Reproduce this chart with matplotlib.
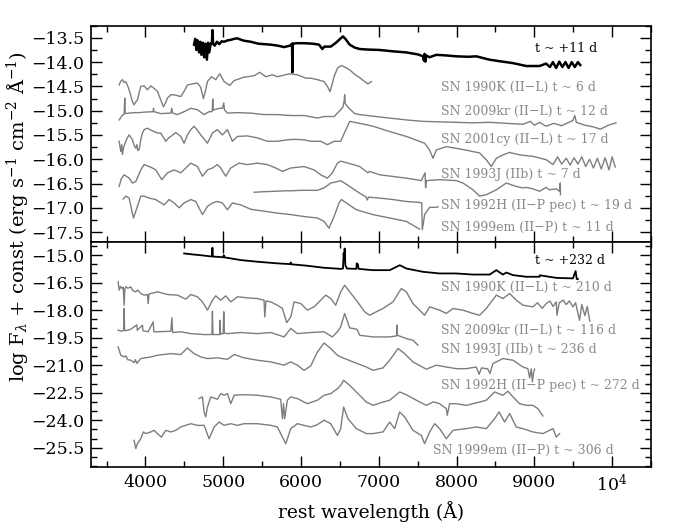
import numpy as np
import matplotlib
matplotlib.use("Agg")
import matplotlib.pyplot as plt
from matplotlib.ticker import MultipleLocator, FixedLocator, FixedFormatter

plt.rcParams["font.family"] = ["DejaVu Serif"]
plt.rcParams["mathtext.fontset"] = "dejavuserif"

# ============================================================
# DATA  (wavelength in A, log flux + const)
# ============================================================

# ---- early epoch panel ----
early_ref_wl = [4625, 4640, 4655, 4670, 4690, 4705, 4720, 4740, 4755, 4770, 4790, 4805, 4820, 4840,
                4855, 4861, 4870, 4890, 4920, 4950, 4980, 5011, 5060, 5100, 5140, 5182, 5230, 5270,
                5354, 5450, 5611, 5700, 5782, 5860, 5885, 5889, 5893, 5950, 6039, 6150, 6232, 6260,
                6275, 6300, 6382, 6450, 6510, 6540, 6570, 6626, 6690, 6754, 6850, 7011, 7200, 7354,
                7500, 7570, 7580, 7589, 7598, 7610, 7650, 7739, 7850, 7996, 8150, 8253, 8350, 8425,
                8550, 8725, 8896, 9067, 9150, 9200, 9239, 9280, 9320, 9360, 9400, 9440, 9480, 9520,
                9560, 9590]
early_ref_fl = [-13.64, -13.52, -13.75, -13.55, -13.80, -13.58, -13.85, -13.60, -13.90, -13.62, -13.95,
                -13.60, -13.80, -13.61, -13.62, -13.34, -13.62, -13.66, -13.58, -13.63, -13.57, -13.58,
                -13.55, -13.54, -13.52, -13.51, -13.54, -13.56, -13.58, -13.62, -13.64, -13.66, -13.69,
                -13.66, -13.62, -14.21, -13.62, -13.61, -13.61, -13.62, -13.64, -13.70, -13.73, -13.68,
                -13.68, -13.60, -13.51, -13.47, -13.52, -13.64, -13.70, -13.73, -13.74, -13.75, -13.78,
                -13.80, -13.84, -13.88, -13.97, -13.83, -13.99, -13.86, -13.90, -13.85, -13.86, -13.88,
                -13.89, -13.88, -13.92, -13.95, -13.98, -14.02, -14.08, -14.08, -14.03, -14.10, -14.00,
                -14.12, -13.99, -14.10, -14.00, -14.12, -14.00, -14.10, -14.00, -14.06]

sn1990k_e_wl = [3662, 3680, 3704, 3725, 3747, 3775, 3803, 3830, 3854, 3876, 3897, 3920, 3940, 3983,
                4026, 4069, 4111, 4154, 4190, 4231, 4255, 4283, 4330, 4390, 4454, 4497, 4540, 4600,
                4668, 4710, 4745, 4770, 4797, 4848, 4904, 4955, 5011, 5083, 5140, 5268, 5397, 5470,
                5547, 5632, 5696, 5854, 5953, 6061, 6125, 6211, 6296, 6340, 6373, 6400, 6425, 6470,
                6519, 6560, 6626, 6690, 6754, 6818, 6861, 6904]
sn1990k_e_fl = [-14.47, -14.40, -14.36, -14.42, -14.40, -14.50, -14.64, -14.80, -14.88, -14.82, -14.78,
                -14.62, -14.50, -14.49, -14.57, -14.49, -14.54, -14.60, -14.75, -14.92, -14.85, -14.74,
                -14.67, -14.68, -14.71, -14.60, -14.47, -14.45, -14.43, -14.52, -14.75, -14.60, -14.40,
                -14.30, -14.36, -14.24, -14.40, -14.48, -14.38, -14.31, -14.28, -14.21, -14.30, -14.26,
                -14.30, -14.24, -14.26, -14.33, -14.33, -14.36, -14.40, -14.50, -14.61, -14.45, -14.30,
                -14.12, -14.07, -14.10, -14.16, -14.25, -14.32, -14.40, -14.45, -14.40]

sn2009kr_e_wl = [3662, 3700, 3726, 3734, 3740, 3790, 3850, 3920, 3983, 4100, 4103, 4110, 4197, 4326,
                 4338, 4350, 4411, 4497, 4583, 4668, 4754, 4820, 4858, 4865, 4872, 4904, 4960, 4990,
                 5007, 5015, 5054, 5182, 5354, 5525, 5696, 5868, 6039, 6211, 6300, 6425, 6510, 6540,
                 6555, 6561, 6568, 6604, 6690, 6754, 7011, 7354, 7568, 7782, 7996, 8211, 8425, 8639,
                 8853, 8950, 9000, 9067, 9150, 9250, 9350, 9496, 9520, 9540, 9650, 9750, 9850, 9950,
                 10050]
sn2009kr_e_fl = [-15.19, -15.10, -15.07, -14.74, -15.06, -15.05, -15.04, -15.04, -15.03, -15.02, -14.95,
                 -15.02, -15.06, -15.05, -14.95, -15.05, -15.08, -15.02, -14.95, -14.98, -15.08, -15.02,
                 -15.02, -14.76, -14.99, -14.97, -14.95, -14.95, -14.84, -14.98, -15.05, -15.04, -15.05,
                 -15.08, -15.08, -15.10, -15.10, -15.15, -15.12, -15.12, -14.98, -14.92, -14.80, -14.67,
                 -14.85, -14.93, -15.06, -15.08, -15.13, -15.19, -15.22, -15.23, -15.24, -15.25, -15.24,
                 -15.26, -15.28, -15.22, -15.30, -15.24, -15.32, -15.26, -15.31, -15.20, -15.10, -15.24,
                 -15.30, -15.33, -15.38, -15.30, -15.25]

sn2001cy_wl = [3662, 3683, 3695, 3704, 3720, 3747, 3770, 3790, 3812, 3833, 3855, 3876, 3890, 3900,
               3919, 3940, 3961, 3983, 4026, 4069, 4111, 4154, 4197, 4261, 4300, 4326, 4390, 4454,
               4497, 4540, 4583, 4625, 4668, 4711, 4754, 4797, 4861, 4925, 4990, 5054, 5118, 5182,
               5311, 5439, 5568, 5696, 5825, 5911, 6039, 6125, 6253, 6339, 6425, 6510, 6560, 6626,
               6690, 6754, 6925, 7140, 7354, 7589, 7650, 7697, 7739, 7870, 8082, 8296, 8382, 8446,
               8511, 8596, 8682, 8810, 8982, 9153, 9239, 9300, 9350, 9410, 9460, 9510, 9560, 9610,
               9660, 9710, 9760, 9810, 9860, 9910, 9960, 10000, 10040]
sn2001cy_fl = [-15.63, -15.84, -15.70, -15.90, -15.75, -15.63, -15.55, -15.50, -15.55, -15.60, -15.72,
               -15.77, -15.70, -15.82, -15.80, -15.60, -15.46, -15.39, -15.36, -15.40, -15.43, -15.46,
               -15.46, -15.63, -15.56, -15.53, -15.45, -15.53, -15.67, -15.50, -15.39, -15.32, -15.40,
               -15.50, -15.58, -15.67, -15.46, -15.39, -15.50, -15.39, -15.63, -15.53, -15.52, -15.56,
               -15.63, -15.63, -15.60, -15.59, -15.60, -15.63, -15.63, -15.70, -15.63, -15.63, -15.45,
               -15.22, -15.24, -15.26, -15.32, -15.43, -15.53, -15.67, -15.80, -15.98, -15.81, -15.74,
               -15.80, -15.87, -16.01, -16.15, -15.98, -15.91, -15.86, -15.91, -15.94, -16.01, -16.11,
               -15.95, -16.10, -15.98, -16.12, -15.97, -16.10, -15.95, -16.15, -16.00, -16.18, -15.98,
               -16.20, -15.97, -16.22, -15.95, -16.16]

sn1993j_e_wl = [3662, 3690, 3726, 3790, 3833, 3876, 3940, 3983, 4047, 4090, 4133, 4210, 4283, 4368,
                4454, 4583, 4668, 4733, 4797, 4861, 4925, 4968, 5032, 5097, 5204, 5311, 5439, 5568,
                5675, 5761, 5868, 6039, 6168, 6253, 6339, 6403, 6468, 6510, 6626, 6754, 6861, 6880,
                7011, 7354, 7547, 7595, 7602, 7611, 7782, 7996, 8082, 8211, 8296, 8382, 8511, 8639,
                8768, 8850, 8896, 8982, 9067, 9150, 9196, 9282, 9324, 9333, 9336]
sn1993j_e_fl = [-16.56, -16.40, -16.32, -16.39, -16.49, -16.46, -16.22, -16.11, -16.15, -16.18, -16.22,
                -16.42, -16.28, -16.22, -16.28, -16.08, -16.15, -16.35, -16.22, -16.18, -16.11, -16.18,
                -16.35, -16.18, -16.08, -16.11, -16.08, -16.11, -16.18, -16.25, -16.18, -16.15, -16.22,
                -16.32, -16.39, -16.28, -16.08, -16.04, -16.09, -16.15, -16.28, -16.25, -16.32, -16.39,
                -16.44, -16.28, -16.59, -16.44, -16.42, -16.44, -16.49, -16.63, -16.76, -16.73, -16.63,
                -16.49, -16.56, -16.59, -16.58, -16.61, -16.66, -16.58, -16.63, -16.61, -16.66, -16.49,
                -16.73]

sn1992h_e_wl = [5397, 5500, 5654, 5800, 5868, 6000, 6082, 6211, 6296, 6382, 6468, 6510, 6626, 6754,
                6840, 6850, 6870, 7011, 7182, 7354, 7525, 7552, 7559, 7575, 7589, 7654, 7739, 7761]
sn1992h_e_fl = [-16.68, -16.67, -16.66, -16.65, -16.65, -16.64, -16.64, -16.64, -16.59, -16.49, -16.46,
                -16.44, -16.56, -16.70, -16.78, -16.84, -16.78, -16.80, -16.83, -16.87, -16.89, -16.90,
                -17.45, -17.30, -17.14, -16.99, -16.99, -16.98]

sn1999em_e_wl = [3713, 3747, 3790, 3846, 3897, 3940, 3983, 4047, 4133, 4240, 4304, 4368, 4433, 4497,
                 4583, 4647, 4733, 4797, 4861, 4925, 4990, 5054, 5118, 5225, 5354, 5525, 5696, 5868,
                 6039, 6211, 6296, 6360, 6425, 6489, 6520, 6583, 6711, 6925, 7140, 7354, 7525]
sn1999em_e_fl = [-16.82, -16.76, -16.80, -17.21, -16.97, -16.76, -16.76, -16.80, -16.83, -16.94, -16.83,
                 -16.90, -17.00, -16.90, -16.83, -16.87, -17.14, -16.97, -16.90, -16.87, -16.90, -17.04,
                 -16.90, -16.94, -17.03, -17.07, -17.11, -17.14, -17.18, -17.21, -17.28, -17.42, -17.18,
                 -16.90, -16.83, -16.90, -17.04, -17.14, -17.21, -17.28, -17.44]

# ---- late epoch panel ----
late_ref_wl = [4497, 4600, 4700, 4840, 4855, 4861, 4867, 4950, 5000, 5007, 5014, 5225, 5439, 5696,
               5860, 5868, 5876, 6082, 6296, 6510, 6540, 6548, 6555, 6561, 6570, 6590, 6711, 6716,
               6731, 6740, 6925, 7140, 7270, 7354, 7568, 7782, 7996, 8211, 8425, 8511, 8596, 8639,
               8725, 8896, 9067, 9070, 9282, 9496, 9530, 9545, 9560]
late_ref_fl = [-14.91, -14.96, -15.00, -15.07, -15.07, -14.60, -15.08, -15.10, -15.12, -15.00, -15.12,
               -15.27, -15.36, -15.45, -15.49, -15.40, -15.50, -15.58, -15.69, -15.75, -15.73, -14.90,
               -15.20, -14.64, -15.55, -15.73, -15.75, -15.45, -15.50, -15.75, -15.82, -15.82, -15.55,
               -15.73, -15.91, -16.00, -16.00, -16.06, -16.06, -15.82, -16.06, -15.95, -16.09, -16.18,
               -16.18, -16.10, -16.24, -16.27, -15.87, -16.30, -16.31]

sn1990k_l_wl = [3649, 3662, 3680, 3700, 3715, 3726, 3735, 3750, 3769, 3790, 3812, 3840, 3876, 3900,
                3940, 3983, 4026, 4034, 4047, 4069, 4111, 4154, 4283, 4411, 4518, 4583, 4668, 4733,
                4797, 4861, 4904, 4968, 5032, 5097, 5182, 5311, 5439, 5525, 5534, 5550, 5611, 5696,
                5761, 5816, 5868, 5911, 5996, 6082, 6168, 6232, 6318, 6382, 6446, 6510, 6561, 6626,
                6711, 6818, 6883, 6925, 7054, 7182, 7290, 7354, 7439, 7525, 7589, 7654, 7782, 7868,
                7954, 8082, 8211, 8296, 8382, 8511, 8596, 8682, 8768, 8853, 8982, 9040, 9100, 9153,
                9200, 9240, 9282, 9290, 9320, 9370, 9410, 9450, 9496, 9530, 9581, 9610, 9650, 9680,
                9713]
sn1990k_l_fl = [-16.46, -16.91, -16.70, -16.82, -16.75, -17.73, -16.85, -16.72, -16.80, -16.78, -16.73,
                -16.95, -17.00, -16.90, -17.09, -17.18, -17.15, -17.64, -17.12, -17.09, -17.05, -17.00,
                -17.15, -17.18, -17.40, -17.15, -17.27, -17.55, -18.00, -17.46, -17.22, -17.46, -17.22,
                -17.55, -17.27, -17.33, -17.37, -17.46, -18.37, -17.50, -17.55, -17.73, -17.91, -18.68,
                -18.37, -17.55, -17.64, -18.00, -17.82, -17.55, -17.18, -17.37, -17.73, -17.00, -16.64,
                -17.00, -17.46, -18.09, -18.28, -18.18, -17.91, -17.55, -16.82, -17.00, -17.64, -18.00,
                -18.28, -17.82, -18.00, -18.18, -17.91, -18.00, -18.18, -18.28, -17.91, -17.18, -17.37,
                -17.09, -17.46, -17.73, -17.82, -17.60, -17.90, -17.64, -17.50, -17.80, -17.55, -18.28,
                -17.60, -17.45, -17.70, -17.50, -17.82, -17.60, -18.55, -17.70, -18.30, -17.80, -18.60]

sn2009kr_l_wl = [3649, 3690, 3720, 3726, 3732, 3769, 3812, 3889, 3895, 3961, 3968, 4034, 4100, 4108,
                 4154, 4326, 4340, 4350, 4454, 4583, 4754, 4855, 4861, 4868, 4904, 4955, 4959, 4965,
                 5000, 5007, 5014, 5054, 5225, 5439, 5611, 5782, 5868, 5953, 6125, 6296, 6403, 6468,
                 6510, 6561, 6626, 6720, 6754, 6925, 7140, 7230, 7234, 7240, 7354, 7439, 7504]
sn2009kr_l_fl = [-19.09, -19.15, -19.10, -17.91, -19.12, -19.10, -19.04, -18.80, -19.10, -18.82, -19.12,
                 -19.18, -18.64, -19.18, -19.18, -19.15, -18.42, -19.22, -19.18, -19.28, -19.33, -19.33,
                 -18.06, -19.33, -19.33, -19.33, -18.55, -19.30, -19.28, -18.09, -19.25, -19.28, -19.22,
                 -19.28, -19.22, -19.46, -19.00, -19.28, -19.22, -19.18, -19.46, -19.18, -18.91, -18.18,
                 -18.97, -19.04, -19.37, -19.46, -19.46, -19.40, -18.82, -19.37, -19.55, -19.64, -19.91]

sn1993j_l_wl = [3649, 3683, 3726, 3750, 3770, 3812, 3854, 3870, 3890, 3940, 4069, 4154, 4326, 4454,
                4540, 4625, 4711, 4797, 4925, 5054, 5140, 5268, 5439, 5611, 5782, 5868, 5953, 6039,
                6125, 6211, 6296, 6382, 6468, 6510, 6668, 6840, 6925, 7054, 7140, 7247, 7332, 7439,
                7611, 7739, 7868, 7996, 8125, 8253, 8290, 8320, 8400, 8430, 8468, 8596, 8725, 8853,
                8917, 8940, 8960, 8975, 8990, 9003]
sn1993j_l_fl = [-20.00, -20.46, -20.55, -20.50, -20.70, -20.73, -20.86, -20.70, -20.90, -20.64, -20.55,
                -20.46, -20.37, -20.42, -20.06, -20.37, -20.55, -20.64, -20.60, -20.68, -20.42, -20.60,
                -20.73, -20.82, -21.00, -20.82, -21.00, -21.28, -21.04, -20.28, -19.79, -20.09, -20.46,
                -20.55, -20.82, -21.10, -21.28, -21.15, -20.73, -20.09, -20.37, -20.82, -21.22, -21.00,
                -21.10, -21.19, -21.19, -21.10, -21.50, -21.15, -21.20, -21.45, -20.91, -20.64, -20.73,
                -21.10, -21.19, -21.70, -21.20, -21.91, -21.40, -21.22]

sn1992h_l_wl = [4690, 4733, 4754, 4775, 4797, 4840, 4925, 4968, 5011, 5054, 5097, 5140, 5268, 5439,
                5611, 5739, 5761, 5775, 5790, 5825, 5868, 5953, 6082, 6211, 6296, 6382, 6468, 6510,
                6548, 6626, 6711, 6840, 6925, 7054, 7140, 7268, 7354, 7482, 7611, 7700, 7782, 7868,
                7880, 7911, 7996, 8125, 8296, 8382, 8489, 8596, 8660, 8725, 8810, 8896, 8982, 9046,
                9110]
sn1992h_l_fl = [-22.82, -22.73, -23.55, -23.82, -23.28, -22.73, -22.86, -22.55, -22.64, -22.55, -23.10,
                -22.64, -22.61, -22.64, -22.73, -22.86, -23.92, -23.10, -23.92, -22.91, -22.73, -22.82,
                -23.10, -22.91, -22.64, -22.55, -22.28, -22.10, -21.82, -22.10, -22.46, -23.01, -23.19,
                -23.01, -22.91, -22.46, -22.61, -22.91, -23.19, -23.00, -23.10, -23.37, -23.73, -23.10,
                -23.10, -23.19, -23.01, -22.91, -22.46, -22.64, -22.42, -22.73, -23.10, -23.19, -23.19,
                -23.37, -23.77]

sn1999em_l_wl = [3854, 3876, 3897, 3940, 3974, 4004, 4069, 4111, 4154, 4206, 4261, 4326, 4390, 4454,
                 4518, 4583, 4668, 4754, 4818, 4883, 4947, 5011, 5097, 5182, 5268, 5439, 5611, 5696,
                 5804, 5868, 5953, 6039, 6125, 6211, 6296, 6382, 6468, 6510, 6548, 6604, 6711, 6840,
                 6925, 7054, 7140, 7204, 7268, 7332, 7439, 7547, 7589, 7654, 7718, 7782, 7868, 7954,
                 8125, 8253, 8382, 8489, 8545, 8618, 8682, 8768, 8853, 8982, 9110, 9239, 9282, 9324]
sn1999em_l_fl = [-25.10, -25.55, -25.28, -25.01, -24.64, -24.73, -24.64, -24.55, -24.73, -24.92, -24.55,
                 -24.64, -24.55, -24.37, -24.28, -24.19, -24.28, -24.28, -25.01, -24.37, -24.10, -24.28,
                 -24.19, -24.28, -24.19, -24.19, -24.28, -24.37, -25.28, -24.46, -24.19, -24.28, -24.37,
                 -24.24, -24.00, -24.19, -24.83, -24.46, -23.28, -23.92, -24.46, -24.73, -24.73, -24.64,
                 -24.10, -24.46, -23.55, -23.82, -24.55, -24.83, -25.28, -24.64, -24.19, -24.46, -25.01,
                 -24.55, -24.46, -24.37, -24.46, -23.92, -23.55, -24.10, -23.64, -24.37, -24.46, -24.64,
                 -24.73, -24.46, -24.92, -24.73]

EARLY_LABELS = ["SN 1990K (II\u2212L) t ~ 6 d", "SN 2009kr (II\u2212L) t ~ 12 d",
                "SN 2001cy (II\u2212L) t ~ 17 d", "SN 1993J (IIb) t ~ 7 d",
                "SN 1992H (II\u2212P pec) t ~ 19 d", "SN 1999em (II\u2212P) t ~ 11 d"]
EARLY_LABEL_Y = [-14.52, -15.01, -15.60, -16.31, -16.95, -17.41]
LATE_LABELS = ["SN 1990K (II\u2212L) t ~ 210 d", "SN 2009kr (II\u2212L) t ~ 116 d",
               "SN 1993J (IIb) t ~ 236 d", "SN 1992H (II\u2212P pec) t ~ 272 d",
               "SN 1999em (II\u2212P) t ~ 306 d"]
LATE_LABEL_Y = [-16.77, -19.08, -20.17, -22.12, -25.64]
LATE_LABEL_X = [7805, 7805, 7805, 7805, 7697]

XTICKS = [4000, 5000, 6000, 7000, 8000, 9000, 10000]
XTICKLABELS = ["4000", "5000", "6000", "7000", "8000", "9000", r"$10^4$"]

GREY = "#7d7d7d"
LABEL_GREY = "#8a8a8a"

# ============================================================
# FIGURE
# ============================================================

fig = plt.figure(figsize=(6.92, 5.26), dpi=100)
ax1 = fig.add_axes([0.1315, 0.5394, 0.8093, 0.4117])
ax2 = fig.add_axes([0.1315, 0.1122, 0.8093, 0.4272])

ax1.plot(early_ref_wl, early_ref_fl, color="k", lw=1.8)
for wl, fl in [(sn1990k_e_wl, sn1990k_e_fl), (sn2009kr_e_wl, sn2009kr_e_fl),
               (sn2001cy_wl, sn2001cy_fl), (sn1993j_e_wl, sn1993j_e_fl),
               (sn1992h_e_wl, sn1992h_e_fl), (sn1999em_e_wl, sn1999em_e_fl)]:
    ax1.plot(wl, fl, color=GREY, lw=1.0)

ax2.plot(late_ref_wl, late_ref_fl, color="k", lw=1.3)
for wl, fl in [(sn1990k_l_wl, sn1990k_l_fl), (sn2009kr_l_wl, sn2009kr_l_fl),
               (sn1993j_l_wl, sn1993j_l_fl), (sn1992h_l_wl, sn1992h_l_fl),
               (sn1999em_l_wl, sn1999em_l_fl)]:
    ax2.plot(wl, fl, color=GREY, lw=1.0)

# labels
LABEL_SIZE = 9
ax1.text(9004, -13.71, "t ~ +11 d", fontsize=LABEL_SIZE, color="k", va="center")
for lab, y in zip(EARLY_LABELS, EARLY_LABEL_Y):
    ax1.text(7805, y, lab, fontsize=LABEL_SIZE, color=LABEL_GREY, va="center")

ax2.text(9004, -15.29, "t ~ +232 d", fontsize=LABEL_SIZE, color="k", va="center")
for lab, x, y in zip(LATE_LABELS, LATE_LABEL_X, LATE_LABEL_Y):
    ax2.text(x, y, lab, fontsize=LABEL_SIZE, color=LABEL_GREY, va="center")

# ============================================================
# AXES STYLE
# ============================================================

ax1.set_ylim(-17.71, -13.25)
ax2.set_ylim(-26.55, -14.3)
ax1.yaxis.set_major_locator(MultipleLocator(0.5))
ax1.yaxis.set_minor_locator(MultipleLocator(0.25))
ax2.yaxis.set_major_locator(MultipleLocator(1.5))
ax2.yaxis.set_minor_locator(MultipleLocator(0.5))

for ax in (ax1, ax2):
    ax.set_xlim(3300, 10500)
    ax.xaxis.set_major_locator(FixedLocator(XTICKS))
    ax.xaxis.set_major_formatter(FixedFormatter(XTICKLABELS))
    ax.xaxis.set_minor_locator(MultipleLocator(500))
    ax.tick_params(which="both", direction="in", top=True, right=True, width=1.0)
    ax.tick_params(which="major", length=8, labelsize=12.5, pad=5)
    ax.tick_params(which="minor", length=4)
    for sp in ax.spines.values():
        sp.set_linewidth(1.2)

ax1.tick_params(labelbottom=False)
ax2.set_xlabel("rest wavelength (Å)", fontsize=13.5, labelpad=4)

fig.text(0.026, 0.5875, r"log F$_\lambda$ + const (erg s$^{-1}$ cm$^{-2}$ Å$^{-1}$)",
         rotation=90, fontsize=14, ha="center", va="center")

plt.savefig("out.png", dpi=100)
